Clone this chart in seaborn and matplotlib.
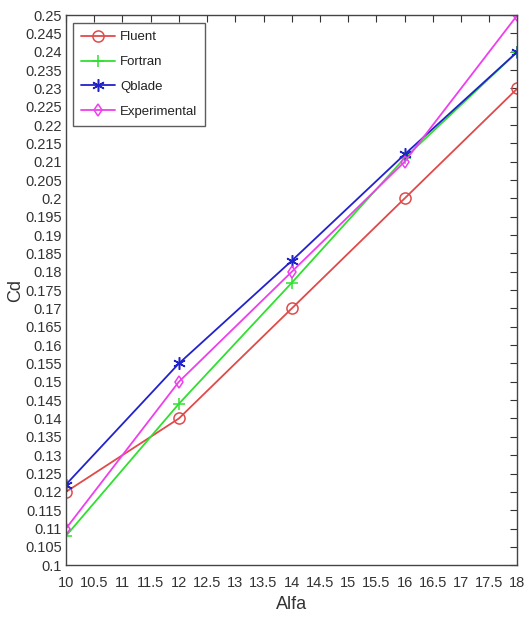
import matplotlib
matplotlib.use("Agg")
import matplotlib.pyplot as plt
import seaborn as sns
import pandas as pd
import numpy as np
from matplotlib import font_manager

alfa = [10, 12, 14, 16, 18]
fluent = [0.120, 0.140, 0.170, 0.200, 0.230]
fortran = [0.108, 0.144, 0.177, 0.211, 0.240]
qblade = [0.122, 0.155, 0.183, 0.212, 0.240]
experimental = [0.110, 0.150, 0.180, 0.210, 0.250]

series_names = ["Fluent", "Fortran", "Qblade", "Experimental"]
series_vals = [fluent, fortran, qblade, experimental]
colors = ["#e04a4a", "#2fe02f", "#2222cc", "#ee3fee"]
markers = ["o", "+", (6, 2, 0), "d"]
marker_sizes = [8, 9, 9, 6]
open_marker = [True, False, False, True]

sns.set_theme(style="white")
names = {f.name for f in font_manager.fontManager.ttflist}
fam = [f for f in ["Liberation Sans Narrow", "Liberation Sans", "DejaVu Sans"] if f in names]
plt.rcParams["font.family"] = fam

df = pd.DataFrame({
    "Alfa": alfa * len(series_names),
    "Cd": sum(series_vals, []),
    "Series": sum([[n] * len(alfa) for n in series_names], []),
})

fig = plt.figure(figsize=(5.28, 6.28), dpi=100)
ax = fig.add_axes([0.125, 0.100, 0.855, 0.876])

for name, c, m, ms, op in zip(series_names, colors, markers, marker_sizes, open_marker):
    sub = df[df["Series"] == name]
    kw = dict(markerfacecolor="none") if op else {}
    sns.lineplot(data=sub, x="Alfa", y="Cd", ax=ax, color=c, marker=m,
                 markersize=ms, markeredgecolor=c,
                 markeredgewidth=1.1, linewidth=1.3, label=name, **kw)

ax.set_xlim(10, 18)
ax.set_ylim(0.1, 0.25)
xt = np.arange(10, 18.01, 0.5)
ax.set_xticks(xt)
ax.set_xticklabels([f"{v:g}" for v in xt])
yt = np.round(np.arange(0.1, 0.2501, 0.005), 3)
ax.set_yticks(yt)
ax.set_yticklabels([f"{v:g}" for v in yt])
ax.tick_params(direction="in", length=5, width=0.8, top=True, right=True,
               labelsize=10.5, colors="#333333", pad=3)
ax.tick_params(axis="x", pad=8)
for s in ax.spines.values():
    s.set_color("#444444")
    s.set_linewidth(1.0)
ax.set_xlabel("Alfa", fontsize=13, color="#333333", labelpad=4)
ax.set_ylabel("Cd", fontsize=13, color="#333333", labelpad=1)

leg = ax.legend(loc="upper left", bbox_to_anchor=(0.015, 0.985), fontsize=9.5,
                frameon=True, fancybox=False, edgecolor="#333333",
                handlelength=2.6, handletextpad=0.4, borderpad=0.6,
                labelspacing=0.95, borderaxespad=0.0)
leg.get_frame().set_linewidth(1.0)
for t in leg.get_texts():
    t.set_color("#222222")

fig.savefig("out.png", dpi=100)
